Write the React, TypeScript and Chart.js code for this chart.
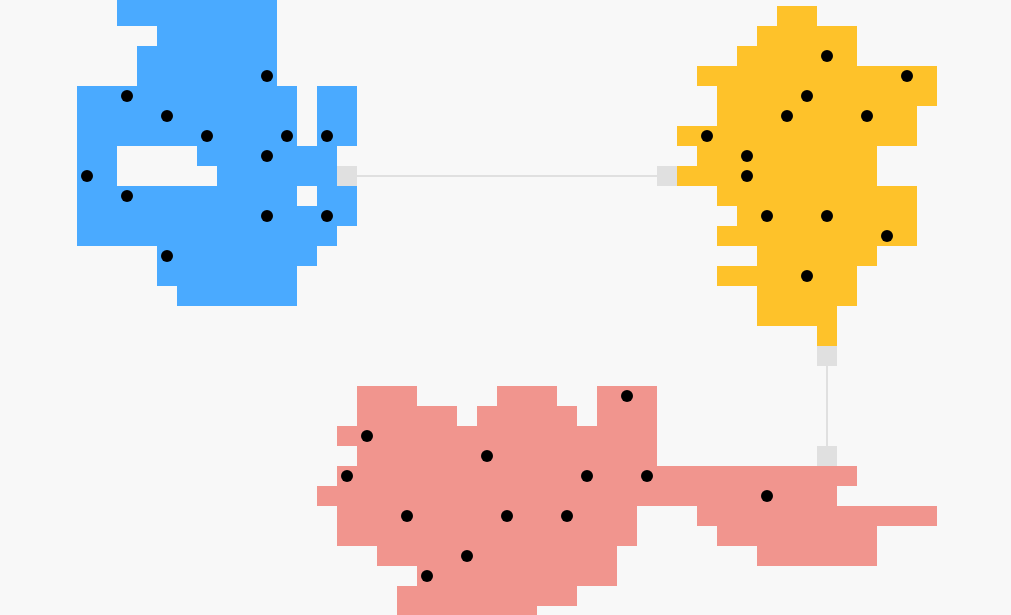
import React, { useEffect, useRef } from "react";
import { Chart, registerables } from "chart.js";

Chart.register(...registerables);

// Grid runs: [row, firstCol, lastCol]
const blueRuns: number[][] = [
  [-1, 6, 13], [0, 6, 13], [1, 8, 13], [2, 7, 13], [3, 7, 13],
  [4, 4, 14], [4, 16, 17], [5, 4, 14], [5, 16, 17], [6, 4, 14], [6, 16, 17],
  [7, 4, 5], [7, 10, 16], [8, 4, 5], [8, 11, 16],
  [9, 4, 14], [9, 16, 17], [10, 4, 17], [11, 4, 16],
  [12, 8, 15], [13, 8, 14], [14, 9, 14],
];
const yellowRuns: number[][] = [
  [0, 39, 40], [1, 38, 42], [2, 37, 42], [3, 35, 46], [4, 36, 46],
  [5, 36, 45], [6, 34, 45], [7, 35, 43], [8, 34, 43], [9, 36, 45],
  [10, 37, 45], [11, 36, 45], [12, 38, 43], [13, 36, 42], [14, 38, 42],
  [15, 38, 41], [16, 41, 41],
];
const redRuns: number[][] = [
  [19, 18, 20], [19, 25, 27], [19, 30, 32],
  [20, 18, 22], [20, 24, 28], [20, 30, 32],
  [21, 17, 32], [22, 18, 32], [23, 17, 42], [24, 16, 41],
  [25, 17, 31], [25, 35, 46], [26, 17, 31], [26, 36, 43],
  [27, 19, 30], [27, 38, 43], [28, 21, 30], [29, 20, 28], [30, 20, 26],
];

// Black markers: [col, row]
const bluePoints: number[][] = [
  [13, 3], [6, 4], [8, 5], [10, 6], [14, 6], [16, 6], [13, 7],
  [4, 8], [6, 9], [13, 10], [16, 10], [8, 12],
];
const yellowPoints: number[][] = [
  [41, 2], [45, 3], [40, 4], [39, 5], [43, 5], [35, 6], [37, 7],
  [37, 8], [38, 10], [41, 10], [44, 11], [40, 13],
];
const redPoints: number[][] = [
  [31, 19], [18, 21], [24, 22], [17, 23], [29, 23], [32, 23],
  [38, 24], [20, 25], [25, 25], [28, 25], [23, 27], [21, 28],
];

// Connector ports [col, row] and links between them
const ports: number[][] = [[17, 8], [33, 8], [41, 17], [41, 22]];
const links: number[][][] = [
  [[17, 8], [33, 8]],
  [[41, 17], [41, 22]],
];

const expand = (runs: number[][]) => {
  const out: { x: number; y: number }[] = [];
  runs.forEach(([r, a, b]) => {
    for (let c = a; c <= b; c++) out.push({ x: c, y: r });
  });
  return out;
};
const toXY = (pts: number[][]) => pts.map(([x, y]) => ({ x, y }));

const CELL_R = 10 * Math.SQRT2;

export default function App() {
  const ref = useRef<HTMLCanvasElement | null>(null);
  useEffect(() => {
    if (!ref.current) return;
    // lower "order" is drawn on top
    const cellDs = (data: any[], color: string, order: number) => ({
      data,
      order,
      pointStyle: "rect",
      pointRadius: CELL_R,
      pointHoverRadius: CELL_R,
      pointBackgroundColor: color,
      pointBorderWidth: 0,
      showLine: false,
      clip: false as any,
    });
    const dotDs = (data: any[]) => ({
      data,
      order: 0,
      pointStyle: "circle",
      pointRadius: 6,
      pointBackgroundColor: "#000000",
      pointBorderWidth: 0,
      showLine: false,
      clip: false as any,
    });
    const linkDs = links.map((l) => ({
      data: toXY(l),
      order: 3,
      showLine: true,
      borderColor: "#e0e0e0",
      borderWidth: 2,
      pointRadius: 0,
      clip: false as any,
    }));
    const chart = new Chart(ref.current, {
      type: "scatter",
      data: {
        datasets: [
          ...linkDs,
          cellDs(toXY(ports), "#e0e0e0", 2),
          cellDs(expand(blueRuns), "#4aaaff", 1),
          cellDs(expand(yellowRuns), "#fec22a", 1),
          cellDs(expand(redRuns), "#f1958e", 1),
          dotDs(toXY(bluePoints)),
          dotDs(toXY(yellowPoints)),
          dotDs(toXY(redPoints)),
        ] as any,
      },
      options: {
        animation: false,
        responsive: false,
        devicePixelRatio: 1,
        layout: { padding: 0, autoPadding: false } as any,
        plugins: { legend: { display: false }, tooltip: { enabled: false } },
        events: [],
        scales: {
          x: { type: "linear", min: -0.35, max: 50.2, display: false },
          y: { type: "linear", min: -0.8, max: 29.95, reverse: true, display: false },
        },
      },
    });
    return () => chart.destroy();
  }, []);
  return (
    <div
      style={{
        position: "fixed",
        left: 0,
        top: 0,
        width: 1011,
        height: 615,
        background: "#f8f8f8",
      }}
    >
      <canvas ref={ref} width={1011} height={615} style={{ display: "block" }} />
    </div>
  );
}
